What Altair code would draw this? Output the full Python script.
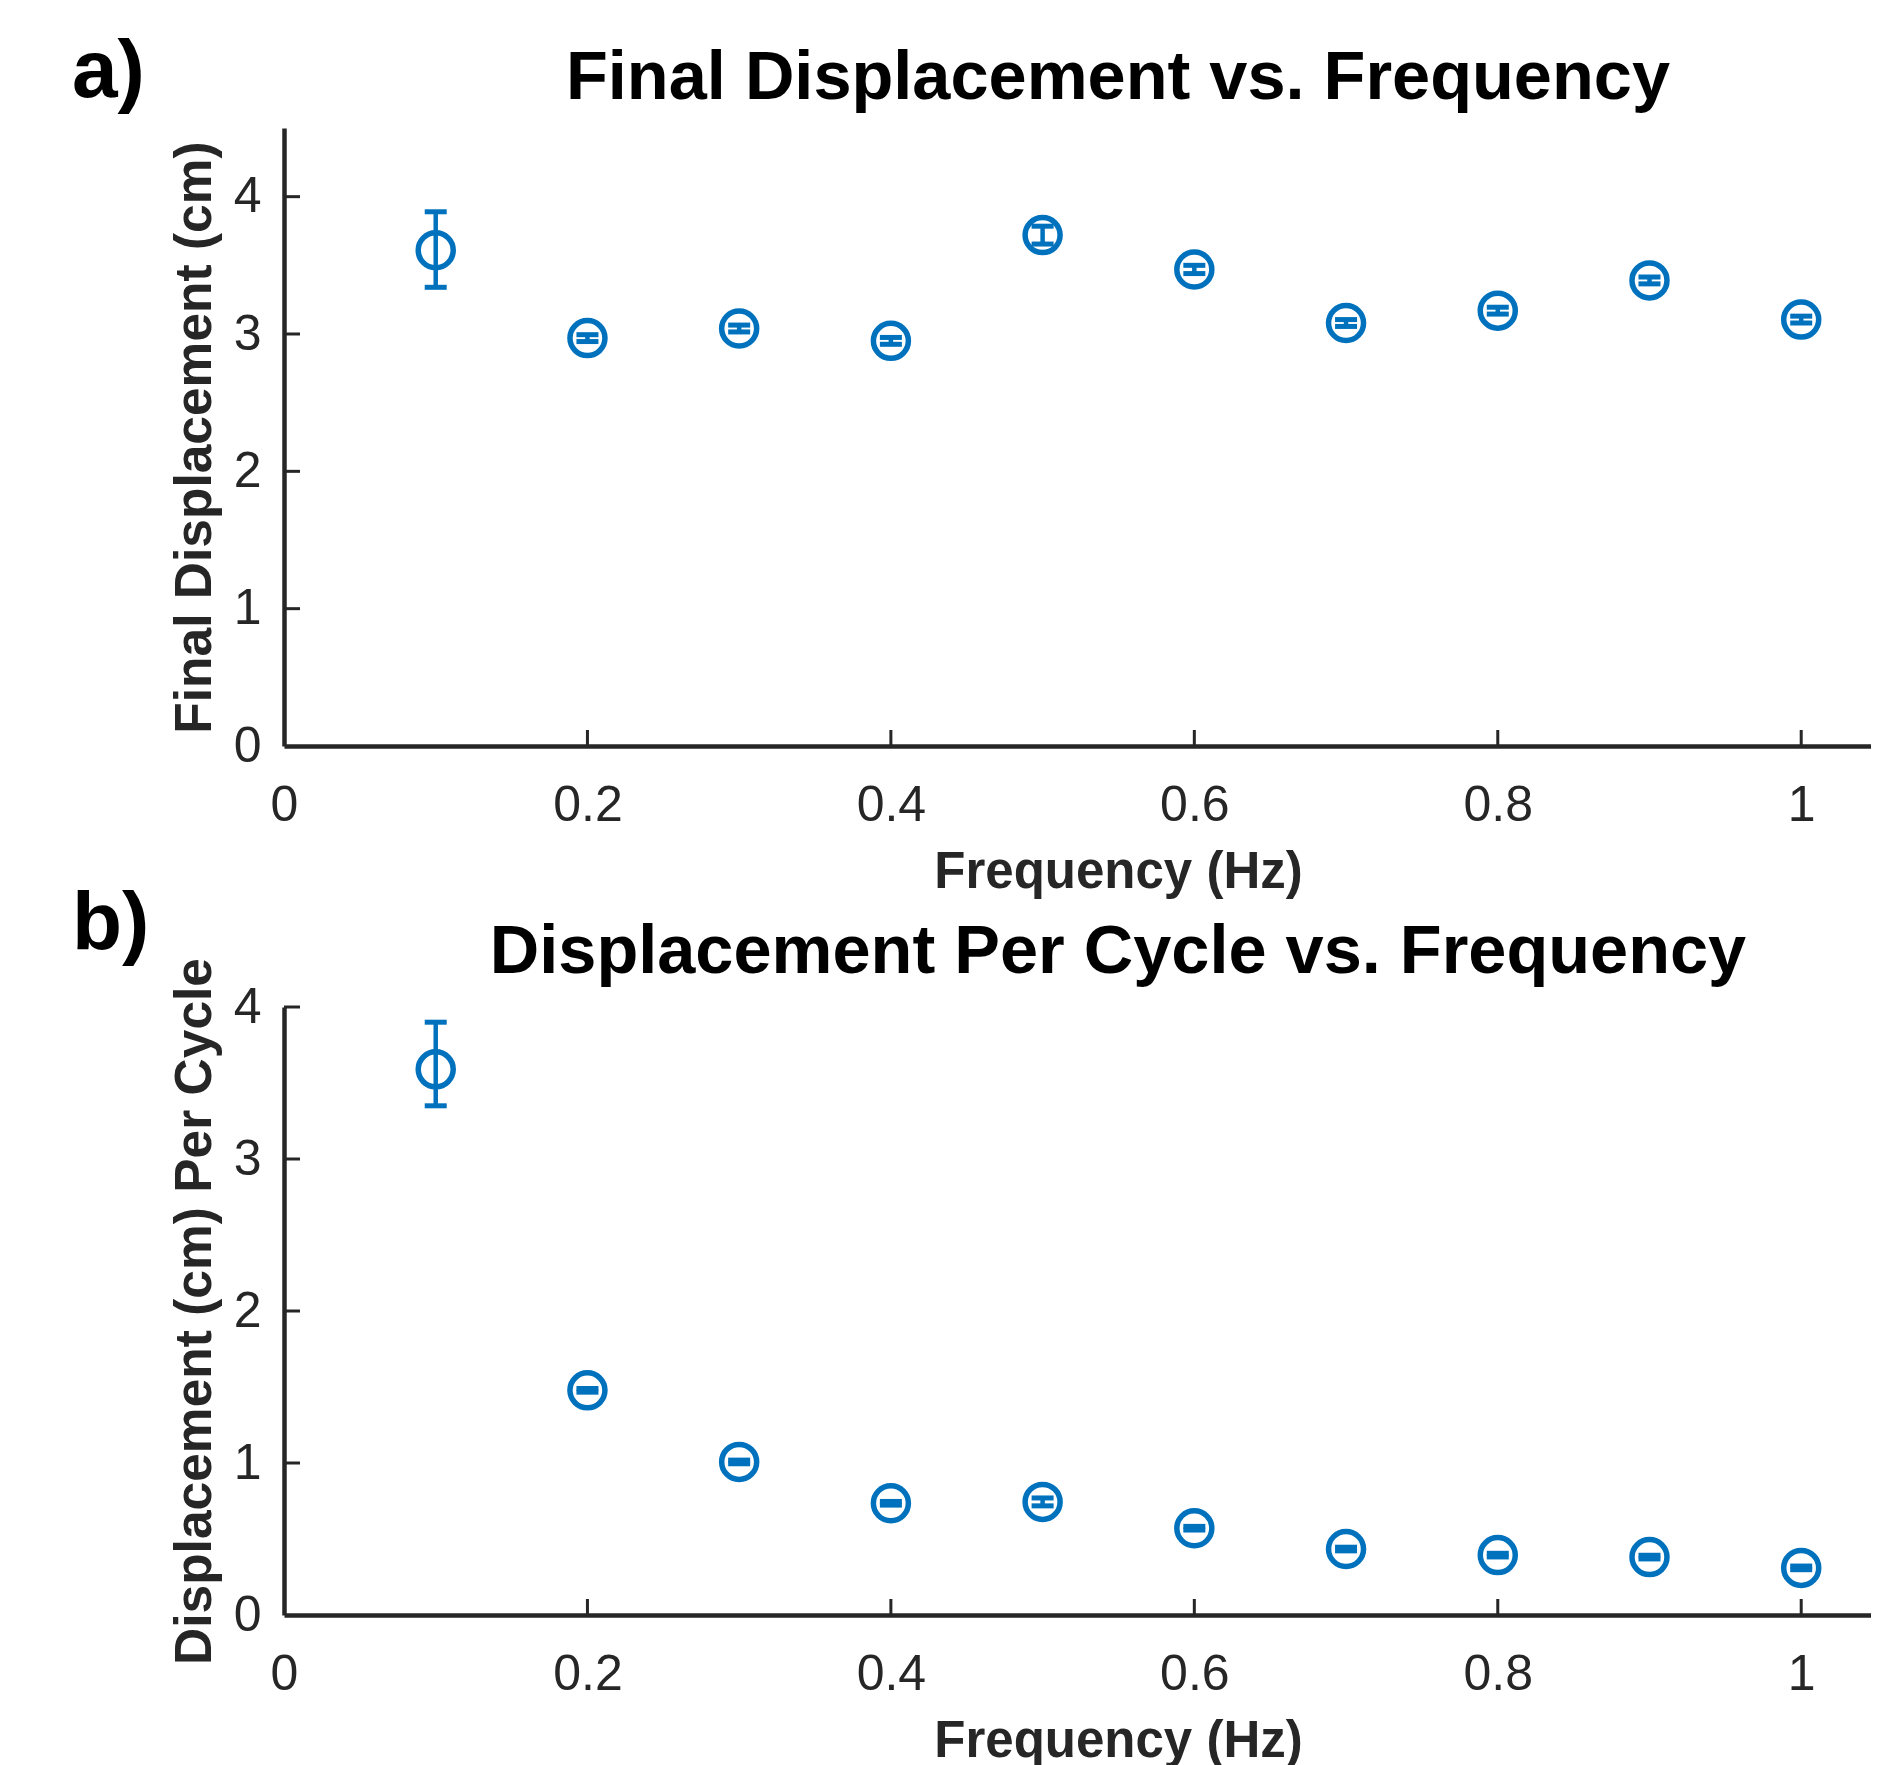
import altair as alt
import pandas as pd

# ---- data ----
freq = [0.1, 0.2, 0.3, 0.4, 0.5, 0.6, 0.7, 0.8, 0.9, 1.0]

final_disp = [3.61, 2.97, 3.04, 2.95, 3.72, 3.47, 3.08, 3.17, 3.39, 3.105]
final_lo = [3.34, 2.945, 3.015, 2.925, 3.655, 3.44, 3.055, 3.145, 3.365, 3.08]
final_hi = [3.89, 2.995, 3.065, 2.975, 3.785, 3.50, 3.105, 3.195, 3.415, 3.13]

cycle_disp = [3.59, 1.478, 1.007, 0.735, 0.744, 0.571, 0.434, 0.394, 0.381, 0.31]
cycle_lo = [3.35, 1.466, 0.995, 0.723, 0.718, 0.559, 0.422, 0.382, 0.369, 0.298]
cycle_hi = [3.90, 1.490, 1.019, 0.747, 0.770, 0.583, 0.446, 0.406, 0.393, 0.322]

x_tick_values = [0, 0.2, 0.4, 0.6, 0.8, 1.0]
x_inner_ticks = [0.2, 0.4, 0.6, 0.8, 1.0]
y_tick_values_a = [0, 1, 2, 3, 4]
y_tick_values_b = [0, 1, 2, 3, 4]
y_inner_ticks = [1, 2, 3, 4]

BLUE = "#0072BD"
AXC = "#262626"
FONT = "Liberation Sans"
XMAX = 1.046
W = 1587


def panel(values, lo, hi, ydom, height, yvals, title, title_y, label,
          label_y, ytitle):
    df = pd.DataFrame({"f": freq, "v": values, "lo": lo, "hi": hi})
    xs = alt.Scale(domain=[0, XMAX], nice=False, zero=False)
    ys = alt.Scale(domain=ydom, nice=False, zero=False)
    xaxis = alt.Axis(
        values=x_tick_values, format="~g", title="Frequency (Hz)",
        ticks=False, tickSize=0, labelPadding=34, labelFontSize=50,
        labelFont=FONT, labelColor=AXC, labelFlush=False, labelOverlap=False,
        titleFont=FONT, titleFontSize=51, titleFontWeight="bold",
        titleColor=AXC, titleX=834, titleAlign="center", titlePadding=17,
        grid=False, domainWidth=4.5, domainColor=AXC,
    )
    yaxis = alt.Axis(
        values=yvals, format="~g", title=ytitle,
        ticks=False, tickSize=0, labelPadding=23, labelFontSize=50,
        labelFont=FONT, labelColor=AXC, labelFlush=False, labelOverlap=False,
        titleFont=FONT, titleFontSize=51.5, titleFontWeight="bold",
        titleColor=AXC, titlePadding=12, grid=False, domainWidth=4.5,
        domainColor=AXC,
    )
    base = alt.Chart(df)
    X = alt.X("f:Q", scale=xs, axis=xaxis)
    errs = base.mark_rule(color=BLUE, strokeWidth=4.5).encode(
        x=X, y=alt.Y("lo:Q", scale=ys, axis=yaxis), y2="hi:Q")
    cap_lo = base.mark_tick(orient="horizontal", size=22, thickness=5,
                            color=BLUE, opacity=1).encode(
        x=X, y=alt.Y("lo:Q", scale=ys, axis=yaxis))
    cap_hi = base.mark_tick(orient="horizontal", size=22, thickness=5,
                            color=BLUE, opacity=1).encode(
        x=X, y=alt.Y("hi:Q", scale=ys, axis=yaxis))
    pts = base.mark_point(shape="circle", filled=False, size=1225,
                          strokeWidth=5.5, color=BLUE, opacity=1).encode(
        x=X, y=alt.Y("v:Q", scale=ys, axis=yaxis))

    xt = alt.Chart(pd.DataFrame({"t": x_inner_ticks})).mark_rule(
        color=AXC, strokeWidth=3).encode(
        x=alt.X("t:Q", scale=xs, axis=xaxis),
        y=alt.value(height), y2=alt.value(height - 16))
    yt = alt.Chart(pd.DataFrame({"t": y_inner_ticks})).mark_rule(
        color=AXC, strokeWidth=3).encode(
        y=alt.Y("t:Q", scale=ys, axis=yaxis),
        x=alt.value(0), x2=alt.value(16))
    lab = alt.Chart(pd.DataFrame({"l": [label]})).mark_text(
        align="left", baseline="alphabetic", font=FONT, fontSize=82,
        fontWeight="bold", color="black").encode(
        text="l:N", x=alt.value(-212), y=alt.value(label_y))
    ttl = alt.Chart(pd.DataFrame({"t": [title]})).mark_text(
        align="center", baseline="alphabetic", font=FONT, fontSize=68.5,
        fontWeight="bold", color="black").encode(
        text="t:N", x=alt.value(834), y=alt.value(title_y))

    return alt.layer(errs, cap_lo, cap_hi, pts, xt, yt, lab, ttl).properties(
        width=W, height=height)


top = panel(final_disp, final_lo, final_hi, [0, 4.5], 618, y_tick_values_a,
            "Final Displacement vs. Frequency", -29, "a)", -31,
            "Final Displacement (cm)")
bottom = panel(cycle_disp, cycle_lo, cycle_hi, [0, 4], 608, y_tick_values_b,
               "Displacement Per Cycle vs. Frequency", -34, "b)", -58,
               "Displacement (cm) Per Cycle")

chart = alt.vconcat(top, bottom, spacing=261, bounds="flush").properties(
    padding={"left": 64, "top": 23, "right": 0, "bottom": 0},
    background="white",
).configure_view(stroke=None)

chart.save("out.html", embed_options={"renderer": "svg", "actions": False})
